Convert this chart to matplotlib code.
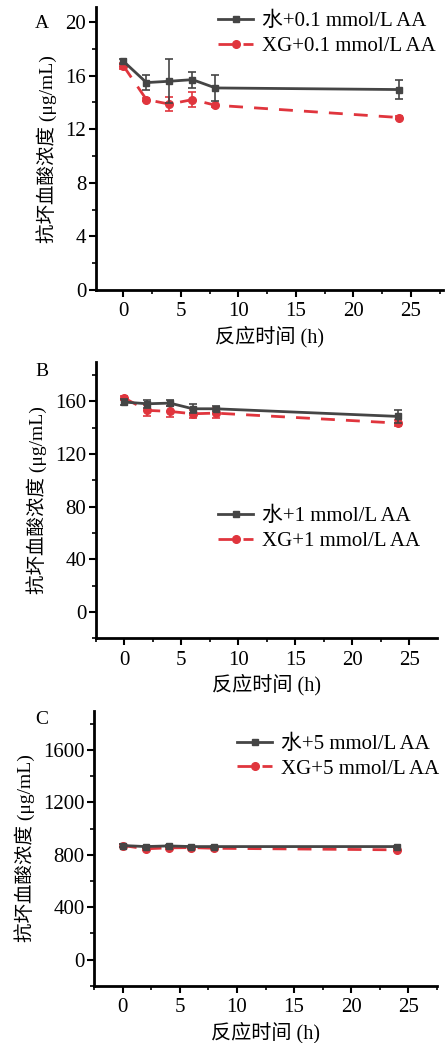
import matplotlib
matplotlib.use('Agg')
import matplotlib.pyplot as plt
from matplotlib.ticker import MultipleLocator

plt.rcParams['font.family'] = ['Liberation Serif', 'Noto Sans CJK SC']
plt.rcParams['mathtext.fontset'] = 'stix'

# Data
hours = [0, 2, 4, 6, 8, 24]

water_01 = [17.07, 15.48, 15.58, 15.70, 15.08, 14.96]
water_01_err = [0.2, 0.53, 1.65, 0.6, 1.0, 0.7]
xg_01 = [16.72, 14.21, 13.87, 14.21, 13.79, 12.87]
xg_01_err = [0.2, 0.1, 0.5, 0.55, 0.1, 0.1]

water_1 = [159.5, 158.2, 158.7, 154.4, 154.4, 148.6]
water_1_err = [2.0, 3.0, 2.0, 3.5, 2.0, 5.0]
xg_1 = [162.5, 153.2, 152.4, 150.6, 151.1, 143.5]
xg_1_err = [1.5, 4.0, 4.0, 3.0, 4.0, 2.0]

water_5 = [871, 863, 868, 863, 863, 863]
water_5_err = [8, 8, 8, 8, 8, 8]
xg_5 = [871, 846, 853, 855, 850, 838]
xg_5_err = [8, 8, 8, 8, 8, 8]

labels_water = ['水+0.1 mmol/L AA', '水+1 mmol/L AA', '水+5 mmol/L AA']
labels_xg = ['XG+0.1 mmol/L AA', 'XG+1 mmol/L AA', 'XG+5 mmol/L AA']
panel_names = ['A', 'B', 'C']

BLACK = '#454545'
RED = '#e0353d'

W, H = 448, 1043
fig = plt.figure(figsize=(W / 100, H / 100), dpi=100)

# panel setup: axes rect, ylim, ytick step, minor step, xlim, legend anchor (px), letter pos
panels = [
    {'rect': [0.214, 0.722, 0.775, 0.271], 'ylim': (0, 21.1), 'major': 4, 'minor': 2,
     'xlim': (-2.4, 27.8), 'leg': (218, 34), 'letter': (-0.176, 0.943),
     'water': (water_01, water_01_err), 'xg': (xg_01, xg_01_err)},
    {'rect': [0.214, 0.388, 0.761, 0.265], 'ylim': (-20, 190), 'major': 40, 'minor': 20,
     'xlim': (-2.5, 27.4), 'leg': (218, 528.8), 'letter': (-0.178, 0.964),
     'water': (water_1, water_1_err), 'xg': (xg_1, xg_1_err)},
    {'rect': [0.2105, 0.0547, 0.7645, 0.264], 'ylim': (-200, 1900), 'major': 400, 'minor': 200,
     'xlim': (-2.5, 27.5), 'leg': (237, 756.5), 'letter': (-0.173, 0.969),
     'water': (water_5, water_5_err), 'xg': (xg_5, xg_5_err)},
]

for i, p in enumerate(panels):
    ax = fig.add_axes(p['rect'])
    wy, we = p['water']
    ry, re = p['xg']
    cw = ax.errorbar(hours, wy, yerr=we, color=BLACK, lw=2, marker='s', ms=5,
                     capsize=3, elinewidth=1.2, capthick=1.2, zorder=3)
    cr = ax.errorbar(hours, ry, yerr=re, color=RED, lw=2, ls=(0, (5, 4)), marker='o', ms=5.5,
                     capsize=3, elinewidth=1.2, capthick=1.2, zorder=2)

    ax.set_xlim(*p['xlim'])
    ax.set_ylim(*p['ylim'])
    ax.xaxis.set_major_locator(MultipleLocator(5))
    ax.xaxis.set_minor_locator(MultipleLocator(2.5))
    ax.yaxis.set_major_locator(MultipleLocator(p['major']))
    ax.yaxis.set_minor_locator(MultipleLocator(p['minor']))
    if i > 0:
        ax.set_yticks([t for t in range(0, int(p['ylim'][1]), p['major'])])

    for side in ['top', 'right']:
        ax.spines[side].set_visible(False)
    for side in ['left', 'bottom']:
        ax.spines[side].set_linewidth(2)
    ax.tick_params(which='major', direction='out', length=5, width=1.5, labelsize=15, pad=2)
    ax.tick_params(axis='x', which='major', pad=4)
    ax.tick_params(which='minor', direction='out', length=3, width=1.2)

    ax.set_xlabel('反应时间 (h)', fontsize=14.5, labelpad=3)
    ax.set_ylabel('抗坏血酸浓度 (μg/mL)', fontsize=14, labelpad=6)

    ax.text(p['letter'][0], p['letter'][1], panel_names[i], transform=ax.transAxes,
            fontsize=14, ha='left', va='center')

    lx, ly = p['leg']
    ax.legend(handles=[cw[0], cr[0]], labels=[labels_water[i], labels_xg[i]],
              loc='center left', bbox_to_anchor=(lx / W, 1 - ly / H),
              bbox_transform=fig.transFigure, frameon=False,
              fontsize=15, handlelength=1.7, handletextpad=0.43,
              labelspacing=0.25, borderaxespad=0, borderpad=0)

fig.savefig('out.png', dpi=100)
